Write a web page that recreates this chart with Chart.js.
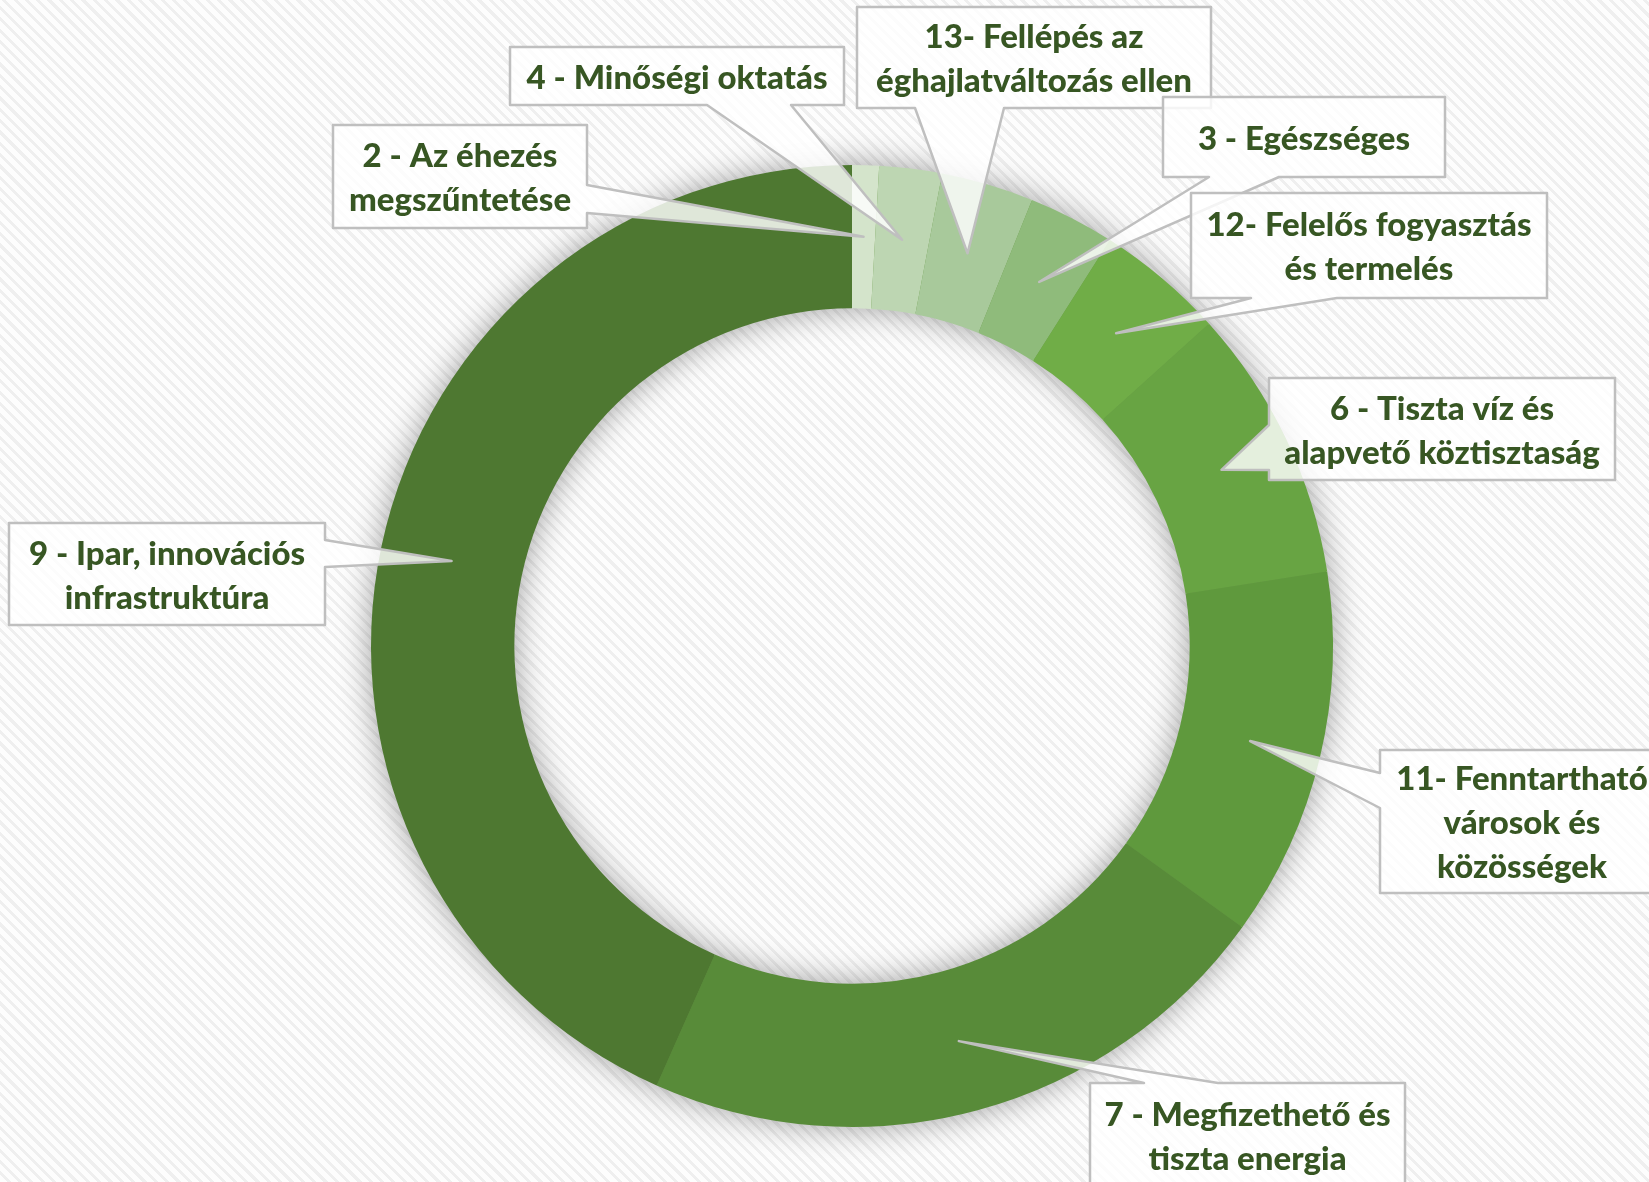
<!DOCTYPE html>
<html>
<head>
<meta charset="utf-8">
<script src="https://cdn.jsdelivr.net/npm/chart.js@4.4.0/dist/chart.umd.min.js"></script>
<style>
    html, body {
        margin: 0;
        padding: 0;
        overflow: hidden;
    }
    body {
        width: 1649px;
        height: 1182px;
        background-color: #fbfbfb;
        background-image: repeating-linear-gradient(45deg, #fdfdfd 0px, #fdfdfd 5px, #efefef 5px, #efefef 8px);
    }
    #sdgChart {
        display: block;
    }
</style>
</head>
<body>
<canvas id="sdgChart" width="1649" height="1182"></canvas>
<script>
// Slices, clockwise from 12 o'clock (share of the ring, in %)
var categories = [
    ['2 - Az éhezés', 'megszűntetése'],
    ['4 - Minőségi oktatás'],
    ['13- Fellépés az', 'éghajlatváltozás ellen'],
    ['3 - Egészséges'],
    ['12- Felelős fogyasztás', 'és termelés'],
    ['6 - Tiszta víz és', 'alapvető köztisztaság'],
    ['11- Fenntartható', 'városok és', 'közösségek'],
    ['7 - Megfizethető és', 'tiszta energia'],
    ['9 - Ipar, innovációs', 'infrastruktúra']
];
var values = [0.9, 2.1, 3.1, 2.9, 4.3, 9.2, 12.4, 21.7, 43.3];
var colors = ['#d4e4cb', '#bdd6b2', '#a8c99b', '#8fbb7b', '#70ad47', '#68a443', '#5f993d', '#588b39', '#4e7831'];

// Callout boxes: [left, top, right, bottom], side of the pointer and where it leaves that side
var callouts = [
    { box: [333, 125, 587, 228], side: 'right', from: 185, to: 213 },
    { box: [510, 47, 844, 105], side: 'bottom', from: 707, to: 791 },
    { box: [857, 7, 1211, 108], side: 'bottom', from: 915, to: 1004 },
    { box: [1163, 97, 1445, 177], side: 'bottom', from: 1209, to: 1279 },
    { box: [1191, 193, 1547, 298], side: 'bottom', from: 1251, to: 1337 },
    { box: [1269, 378, 1615, 480], side: 'left', from: 425, to: 470 },
    { box: [1380, 750, 1664, 893], side: 'left', from: 773, to: 808 },
    { box: [1090, 1083, 1405, 1188], side: 'top', from: 1144, to: 1218 },
    { box: [9, 523, 325, 625], side: 'right', from: 540, to: 567 }
];

var textColor = '#375623';
var lineHeight = 44;

// Soft grey halo around the ring, drawn before the slices
var ringShadow = {
    id: 'ringShadow',
    beforeDatasetsDraw: function(chart) {
        var arc = chart.getDatasetMeta(0).data[0];
        if (!arc) {
            return;
        }
        var ctx = chart.ctx;
        ctx.save();
        ctx.shadowColor = 'rgba(0, 0, 0, 0.4)';
        ctx.shadowBlur = 34;
        ctx.fillStyle = '#6a9a4a';
        ctx.beginPath();
        ctx.arc(arc.x, arc.y, arc.outerRadius - 1, 0, Math.PI * 2, false);
        ctx.arc(arc.x, arc.y, arc.innerRadius + 1, 0, Math.PI * 2, true);
        ctx.fill();
        ctx.restore();
    }
};

// Build the outline of a box with its wedge pointer
function calloutPath(ctx, c, tip) {
    var l = c.box[0], t = c.box[1], r = c.box[2], b = c.box[3];
    ctx.beginPath();
    ctx.moveTo(l, t);
    if (c.side == 'top') {
        ctx.lineTo(c.from, t);
        ctx.lineTo(tip.x, tip.y);
        ctx.lineTo(c.to, t);
    }
    ctx.lineTo(r, t);
    if (c.side == 'right') {
        ctx.lineTo(r, c.from);
        ctx.lineTo(tip.x, tip.y);
        ctx.lineTo(r, c.to);
    }
    ctx.lineTo(r, b);
    if (c.side == 'bottom') {
        ctx.lineTo(c.to, b);
        ctx.lineTo(tip.x, tip.y);
        ctx.lineTo(c.from, b);
    }
    ctx.lineTo(l, b);
    if (c.side == 'left') {
        ctx.lineTo(l, c.to);
        ctx.lineTo(tip.x, tip.y);
        ctx.lineTo(l, c.from);
    }
    ctx.closePath();
}

var calloutLabels = {
    id: 'calloutLabels',
    afterDatasetsDraw: function(chart) {
        var ctx = chart.ctx;
        var arcs = chart.getDatasetMeta(0).data;
        ctx.save();
        for (var i = 0; i < arcs.length; i++) {
            var arc = arcs[i];
            var c = callouts[i];
            // Pointer ends in the middle of the slice
            var angle = (arc.startAngle + arc.endAngle) / 2;
            var radius = (arc.innerRadius + arc.outerRadius) / 2;
            var tip = { x: arc.x + Math.cos(angle) * radius, y: arc.y + Math.sin(angle) * radius };

            calloutPath(ctx, c, tip);
            ctx.fillStyle = 'rgba(255, 255, 255, 0.82)';
            ctx.fill();
            ctx.lineWidth = 2.5;
            ctx.lineJoin = 'round';
            ctx.strokeStyle = '#bfbfbf';
            ctx.stroke();

            var lines = categories[i];
            var cx = (c.box[0] + c.box[2]) / 2;
            var cy = (c.box[1] + c.box[3]) / 2;
            ctx.fillStyle = textColor;
            ctx.font = '900 33px Lato';
            ctx.textAlign = 'center';
            ctx.textBaseline = 'middle';
            for (var j = 0; j < lines.length; j++) {
                var y = cy + (j - (lines.length - 1) / 2) * lineHeight + 2;
                ctx.fillText(lines[j], cx, y);
            }
        }
        ctx.restore();
    }
};

var ctx = document.getElementById('sdgChart').getContext('2d');
var chart = new Chart(ctx, {
    type: 'doughnut',
    data: {
        labels: categories.map(function(l) { return l.join(' '); }),
        datasets: [{
            data: values,
            backgroundColor: colors,
            borderWidth: 0
        }]
    },
    options: {
        responsive: false,
        animation: false,
        cutout: '70.2%',
        layout: {
            padding: { top: 165, bottom: 55, left: 371, right: 316 }
        },
        plugins: {
            legend: { display: false },
            tooltip: { enabled: false }
        }
    },
    plugins: [ringShadow, calloutLabels]
});
</script>
</body>
</html>
